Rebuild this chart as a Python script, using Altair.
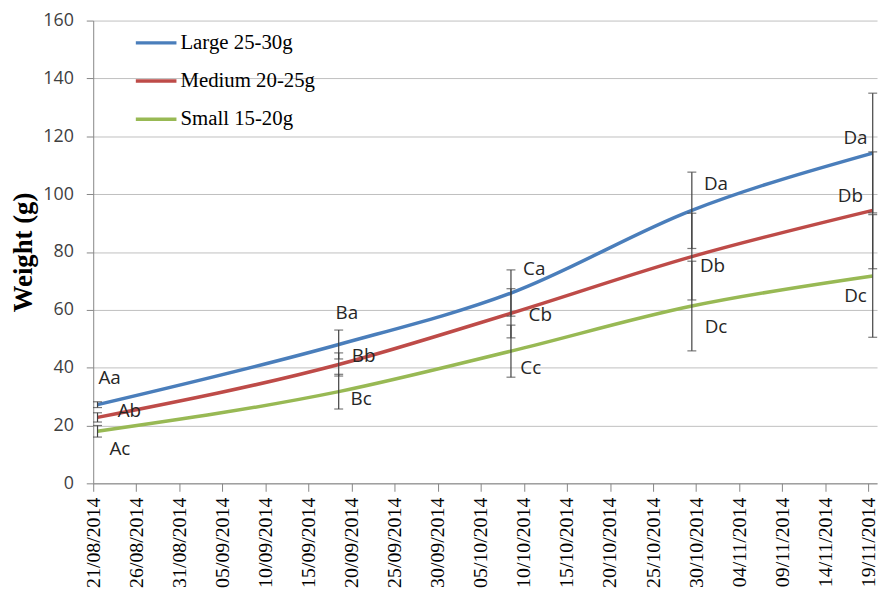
import altair as alt
import pandas as pd

# ---- data ----
dates = ["21/08/2014", "18/09/2014", "08/10/2014", "29/10/2014", "19/11/2014"]
series = ["Large 25-30g", "Medium 20-25g", "Small 15-20g"]
large = [27.2, 48.0, 65.8, 94.4, 114.2]
medium = [22.8, 41.1, 58.8, 78.4, 94.4]
small = [18.0, 31.7, 45.7, 61.3, 71.7]
large_err = [1.0, 5.0, 8.0, 13.2, 20.7]
medium_err = [1.6, 4.0, 8.5, 15.0, 20.2]
small_err = [2.0, 6.0, 9.0, 15.5, 21.2]
colors = ["#4a7ebb", "#be4b48", "#98b954"]

tick_labels = [
    "21/08/2014", "26/08/2014", "31/08/2014", "05/09/2014", "10/09/2014",
    "15/09/2014", "20/09/2014", "25/09/2014", "30/09/2014", "05/10/2014",
    "10/10/2014", "15/10/2014", "20/10/2014", "25/10/2014", "30/10/2014",
    "04/11/2014", "09/11/2014", "14/11/2014", "19/11/2014",
]
y_ticks = [0, 20, 40, 60, 80, 100, 120, 140, 160]

# letter annotations (anchor in days since 21/08/2014, weight in g)
label_text = ["Aa", "Ab", "Ac", "Ba", "Bb", "Bc", "Ca", "Cb", "Cc",
              "Da", "Db", "Dc", "Da", "Db", "Dc"]
label_day = [1.9, 4.2, 3.1, 29.45, 31.4, 31.1, 51.2, 51.9, 50.8,
             72.3, 71.9, 72.3, 88.5, 87.9, 88.5]
label_value = [36.3, 25.0, 12.0, 58.8, 43.9, 29.0, 74.2, 58.1, 40.0,
               103.4, 75.0, 54.0, 119.5, 99.5, 64.6]

# ---- tables ----
start = pd.to_datetime(dates[0], dayfirst=True)
day = [(pd.to_datetime(d, dayfirst=True) - start).days + 0.5 for d in dates]

rows = []
for name, vals, errs in zip(series, [large, medium, small],
                            [large_err, medium_err, small_err]):
    for d, v, e in zip(day, vals, errs):
        rows.append({"day": d, "value": v, "series": name,
                     "lo": v - e, "hi": v + e})
df = pd.DataFrame(rows)
labels_df = pd.DataFrame({"day": label_day, "value": label_value,
                          "text": label_text})

tick_days = [5 * i for i in range(len(tick_labels))]
label_expr = "[" + ",".join("'%s'" % t for t in tick_labels) + "][round(datum.value / 5)]"

x_scale = alt.Scale(domain=[0, 91], nice=False, zero=False)
y_scale = alt.Scale(domain=[0, 160], nice=False)

x_axis = alt.Axis(values=tick_days, labelExpr=label_expr, grid=False,
                  labelAngle=-90, labelFont="Liberation Serif", labelFontSize=20,
                  labelColor="#000000", labelFlush=False, labelOverlap=False,
                  labelBound=False, tickSize=8, tickColor="#868686",
                  domainColor="#868686", labelPadding=6, title=None)
y_axis = alt.Axis(values=y_ticks, grid=True, gridColor="#bfbfbf",
                  labelFont="Open Sans", labelFontSize=18, labelColor="#3f3f3f",
                  tickSize=7, tickColor="#868686", domainColor="#868686",
                  labelPadding=13, title="Weight (g)",
                  titleFont="Liberation Serif", titleFontSize=27,
                  titleFontWeight="bold", titleColor="#000000",
                  titleX=-70, titleBaseline="middle")

base = alt.Chart(df)

lines = base.mark_line(interpolate="monotone", strokeWidth=3.5).encode(
    x=alt.X("day:Q", scale=x_scale, axis=x_axis),
    y=alt.Y("value:Q", scale=y_scale, axis=y_axis),
    color=alt.Color("series:N",
                    scale=alt.Scale(domain=series, range=colors),
                    legend=alt.Legend(title=None, orient="none",
                                      legendX=41, legendY=0,
                                      symbolType="stroke", symbolSize=1681,
                                      symbolStrokeWidth=3.5,
                                      labelFont="Liberation Serif",
                                      labelFontSize=21, labelColor="#000000",
                                      labelOffset=2, rowPadding=5.5)),
)

err_rules = base.mark_rule(color="#404040", strokeWidth=1.2).encode(
    x="day:Q", y="lo:Q", y2="hi:Q")
caps_lo = base.mark_tick(color="#404040", orient="horizontal", size=9,
                         thickness=1.2).encode(x="day:Q", y="lo:Q")
caps_hi = base.mark_tick(color="#404040", orient="horizontal", size=9,
                         thickness=1.2).encode(x="day:Q", y="hi:Q")

texts = alt.Chart(labels_df).mark_text(
    font="Open Sans", fontSize=19, color="#262626",
    align="center", baseline="middle").encode(
    x="day:Q", y="value:Q", text="text:N")

chart = alt.layer(lines, err_rules, caps_lo, caps_hi, texts).properties(
    width=791, height=467,
    autosize=alt.AutoSizeParams(type="none"),
    padding={"left": 86, "top": 10, "right": 3, "bottom": 111},
).configure_view(stroke=None)

chart.save("out.html", embed_options={"renderer": "svg", "actions": False})
